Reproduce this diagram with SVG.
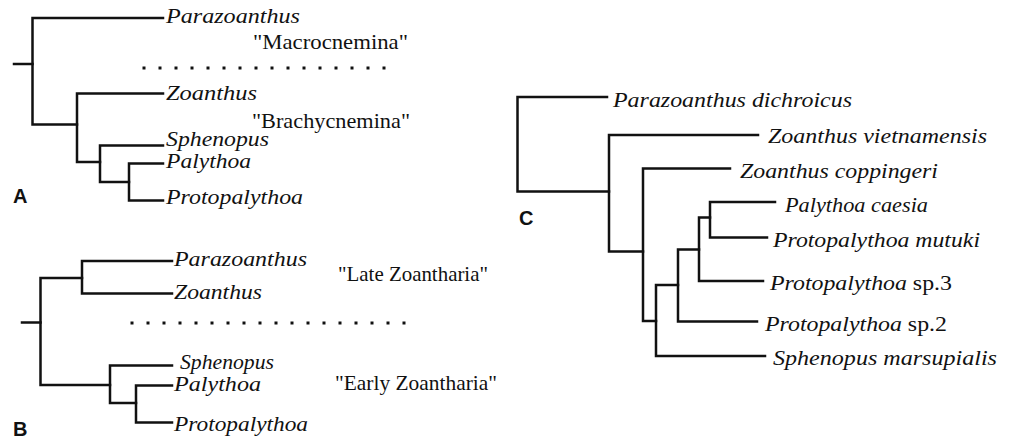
<svg xmlns="http://www.w3.org/2000/svg" width="1011" height="441" viewBox="0 0 1011 441">
<style>
.br{fill:none;stroke:#111;stroke-width:2.5;stroke-linecap:square}
.dot{fill:none;stroke:#111;stroke-width:3;stroke-dasharray:3 13}
.sp{font-family:"Liberation Serif","Times New Roman",serif;font-style:italic;font-size:21px;fill:#111}
.rg{font-family:"Liberation Serif","Times New Roman",serif;font-size:21px;fill:#111}
.lb{font-family:"Liberation Sans",Arial,sans-serif;font-weight:bold;font-size:20px;fill:#111}
</style>
<rect width="1011" height="441" fill="#fff"/>
<g id="connectors">
  <!-- Panel A -->
  <path class="br" d="M14 64 H32.5"/>
  <path class="br" d="M163 18 H32.5 V124.5 H77"/>
  <path class="br" d="M163 93.5 H77 V162 H100"/>
  <path class="br" d="M163 145.5 H100 V182 H129"/>
  <path class="br" d="M163 163.5 H129 V200.5 H163"/>
  <line class="dot" x1="142.5" y1="68" x2="390" y2="68"/>
  <!-- Panel B -->
  <path class="br" d="M22 322.5 H40.5"/>
  <path class="br" d="M82 278 H40.5 V385 H110"/>
  <path class="br" d="M172 261 H82 V293.5 H172"/>
  <path class="br" d="M172 365.5 H110 V403 H136"/>
  <path class="br" d="M172 385.5 H136 V422.5 H172"/>
  <line class="dot" x1="130.5" y1="323" x2="410" y2="323"/>
  <!-- Panel C -->
  <path class="br" d="M607 97 H517.5 V191.5 H609"/>
  <path class="br" d="M758 135 H609 V251.5 H643"/>
  <path class="br" d="M730 168.5 H643 V321 H656"/>
  <path class="br" d="M765 356 H656 V285 H678"/>
  <path class="br" d="M757 321.5 H678 V249.5 H699"/>
  <path class="br" d="M763 281 H699 V217.5 H710"/>
  <path class="br" d="M775 202 H710 V237.5 H767"/>
</g>
<g id="panelA">
  <text class="lb" x="13" y="203">A</text>
  <g id="A-parazoanthus"><text class="sp" x="166" y="23" textLength="134" lengthAdjust="spacingAndGlyphs">Parazoanthus</text></g>
  <g id="A-macro"><text class="rg" x="253" y="49" textLength="155" lengthAdjust="spacingAndGlyphs">"Macrocnemina"</text></g>
  <g id="A-zoanthus"><text class="sp" x="166" y="100" textLength="91" lengthAdjust="spacingAndGlyphs">Zoanthus</text></g>
  <g id="A-brachy"><text class="rg" x="252" y="128" textLength="158" lengthAdjust="spacingAndGlyphs">"Brachycnemina"</text></g>
  <g id="A-sphenopus"><text class="sp" x="166" y="146" textLength="103" lengthAdjust="spacingAndGlyphs">Sphenopus</text></g>
  <g id="A-palythoa"><text class="sp" x="166" y="168" textLength="85" lengthAdjust="spacingAndGlyphs">Palythoa</text></g>
  <g id="A-protopalythoa"><text class="sp" x="166" y="204" textLength="137" lengthAdjust="spacingAndGlyphs">Protopalythoa</text></g>
</g>
<g id="panelB">
  <text class="lb" x="13" y="436">B</text>
  <g id="B-parazoanthus"><text class="sp" x="174" y="266" textLength="133" lengthAdjust="spacingAndGlyphs">Parazoanthus</text></g>
  <g id="B-zoanthus"><text class="sp" x="174" y="299" textLength="88" lengthAdjust="spacingAndGlyphs">Zoanthus</text></g>
  <g id="B-late"><text class="rg" x="338" y="281" textLength="150" lengthAdjust="spacingAndGlyphs">"Late Zoantharia"</text></g>
  <g id="B-sphenopus"><text class="sp" x="180" y="369" textLength="94" lengthAdjust="spacingAndGlyphs">Sphenopus</text></g>
  <g id="B-palythoa"><text class="sp" x="174" y="391" textLength="87" lengthAdjust="spacingAndGlyphs">Palythoa</text></g>
  <g id="B-early"><text class="rg" x="335" y="390" textLength="162" lengthAdjust="spacingAndGlyphs">"Early Zoantharia"</text></g>
  <g id="B-protopalythoa"><text class="sp" x="174" y="431" textLength="134" lengthAdjust="spacingAndGlyphs">Protopalythoa</text></g>
</g>
<g id="panelC">
  <text class="lb" x="519" y="225">C</text>
  <g id="C-pdichroicus"><text class="sp" x="613" y="107" textLength="239" lengthAdjust="spacingAndGlyphs">Parazoanthus dichroicus</text></g>
  <g id="C-zviet"><text class="sp" x="768" y="143" textLength="219" lengthAdjust="spacingAndGlyphs">Zoanthus vietnamensis</text></g>
  <g id="C-zcopp"><text class="sp" x="740" y="178" textLength="198" lengthAdjust="spacingAndGlyphs">Zoanthus coppingeri</text></g>
  <g id="C-pcaesia"><text class="sp" x="785" y="212" textLength="143" lengthAdjust="spacingAndGlyphs">Palythoa caesia</text></g>
  <g id="C-pmutuki"><text class="sp" x="773" y="247" textLength="207" lengthAdjust="spacingAndGlyphs">Protopalythoa mutuki</text></g>
  <g id="C-psp3"><text class="rg" x="770" y="290" textLength="182" lengthAdjust="spacingAndGlyphs"><tspan font-style="italic">Protopalythoa</tspan> sp.3</text></g>
  <g id="C-psp2"><text class="rg" x="765" y="331" textLength="182" lengthAdjust="spacingAndGlyphs"><tspan font-style="italic">Protopalythoa</tspan> sp.2</text></g>
  <g id="C-smars"><text class="sp" x="773" y="365" textLength="224" lengthAdjust="spacingAndGlyphs">Sphenopus marsupialis</text></g>
</g>
</svg>
